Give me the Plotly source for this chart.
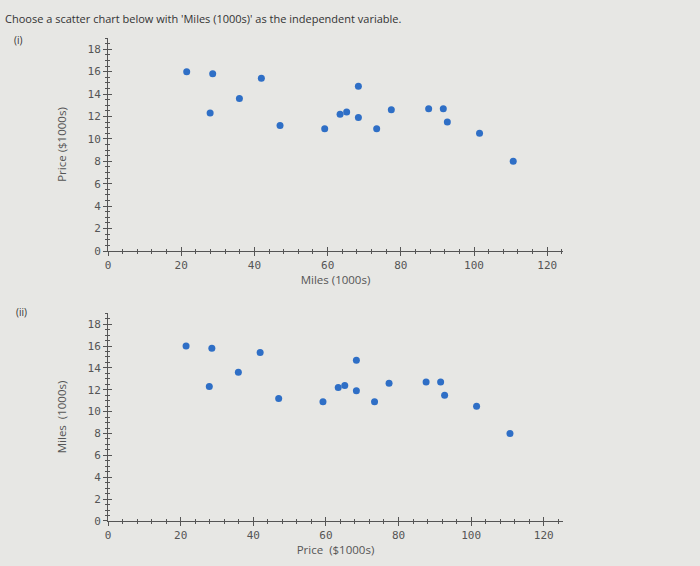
import plotly.graph_objects as go

# Data (same data in both charts)
miles = [21.5, 27.9, 28.6, 35.9, 41.9, 47.0, 59.2, 63.4, 65.2, 68.4, 68.4,
         73.4, 77.4, 87.6, 91.6, 92.7, 101.5, 110.7]
price = [16.0, 12.3, 15.8, 13.6, 15.4, 11.2, 10.9, 12.2, 12.4, 14.7, 11.9,
         10.9, 12.6, 12.7, 12.7, 11.5, 10.5, 8.0]

title_text = "Choose a scatter chart below with 'Miles (1000s)' as the independent variable."
chart1_xtitle = "Miles (1000s)"
chart1_ytitle = "Price ($1000s)"
chart2_xtitle = "Price  ($1000s)"
chart2_ytitle = "Miles  (1000s)"

BG = "#e7e7e4"
AX = "#555555"
DOT = "#2f6fc6"
tickfont = dict(family="DejaVu Sans Mono", size=11, color="#555555")
titlefont = dict(family="Open Sans", size=11.5, color="#555555")

fig = go.Figure()
fig.add_trace(go.Scatter(x=miles, y=price, mode="markers", xaxis="x", yaxis="y",
                         marker=dict(color=DOT, size=7), showlegend=False, hoverinfo="skip"))
fig.add_trace(go.Scatter(x=miles, y=price, mode="markers", xaxis="x2", yaxis="y2",
                         marker=dict(color=DOT, size=7), showlegend=False, hoverinfo="skip"))
# empty traces for overlay axes that give the inner half of the crossing ticks
fig.add_trace(go.Scatter(x=[], y=[], xaxis="x3", yaxis="y3", showlegend=False))
fig.add_trace(go.Scatter(x=[], y=[], xaxis="x4", yaxis="y4", showlegend=False))

top1 = [0.559, 1.0]
bot2 = [0.0, 0.431]
xr1 = [0, 124.3]
xr2 = [0, 125.3]
yr1 = [0, 19]
yr2 = [0, 18.0 * (521 - 313) / (521 - 324.3)]


def xax(rng, dom_anchor, title=None, inside=False, overlay=None):
    d = dict(range=rng, showgrid=False, zeroline=False, showline=True, linecolor=AX,
             linewidth=1, dtick=20, tick0=0, ticklen=4, tickcolor=AX, tickwidth=1,
             ticks="inside" if inside else "outside", tickfont=tickfont,
             minor=dict(dtick=4, tick0=0, ticklen=2, tickcolor=AX,
                        ticks="inside" if inside else "outside"),
             fixedrange=True, anchor=dom_anchor, domain=[0, 1])
    if inside:
        d["showticklabels"] = False
    if overlay:
        d["overlaying"] = overlay
    if title:
        d["title"] = dict(text=title, font=titlefont, standoff=2)
    return d


def yax(rng, dom, anchor, title=None, inside=False, overlay=None):
    d = dict(range=rng, showgrid=False, zeroline=False, showline=True, linecolor=AX,
             linewidth=1, dtick=2, tick0=0, ticklen=4, tickcolor=AX, tickwidth=1,
             ticks="inside" if inside else "outside", tickfont=tickfont,
             minor=dict(dtick=0.5, tick0=0, ticklen=2, tickcolor=AX,
                        ticks="inside" if inside else "outside"),
             fixedrange=True, anchor=anchor, domain=dom)
    if inside:
        d["showticklabels"] = False
    if overlay:
        d["overlaying"] = overlay
    if title:
        d["title"] = dict(text=title, font=titlefont, standoff=18)
    return d


fig.update_layout(
    width=700, height=566,
    margin=dict(l=108, r=137, t=38, b=45),
    paper_bgcolor=BG, plot_bgcolor=BG,
    xaxis=xax(xr1, "y", chart1_xtitle),
    yaxis=yax(yr1, top1, "x", chart1_ytitle),
    xaxis2=xax(xr2, "y2", chart2_xtitle),
    yaxis2=yax(yr2, bot2, "x2", chart2_ytitle),
    xaxis3=xax(xr1, "y3", inside=True, overlay="x"),
    yaxis3=yax(yr1, top1, "x3", inside=True, overlay="y"),
    xaxis4=xax(xr2, "y4", inside=True, overlay="x2"),
    yaxis4=yax(yr2, bot2, "x4", inside=True, overlay="y2"),
)

# text placed in pixel positions converted to paper coordinates
texts = [(title_text, 3, 566 - 18, 11), ("(i)", 12, 566 - 40, 10), ("(ii)", 14, 566 - 312, 10)]
anns = []
for txt, px, py, sz in texts:
    anns.append(dict(text=txt, xref="paper", yref="paper",
                     x=(px - 108) / (700 - 108 - 137), y=(py - 45) / (566 - 38 - 45),
                     xanchor="left", yanchor="middle", showarrow=False,
                     font=dict(family="Open Sans", size=sz, color="#333333")))
fig.update_layout(annotations=anns)

fig.write_html("out.html")
